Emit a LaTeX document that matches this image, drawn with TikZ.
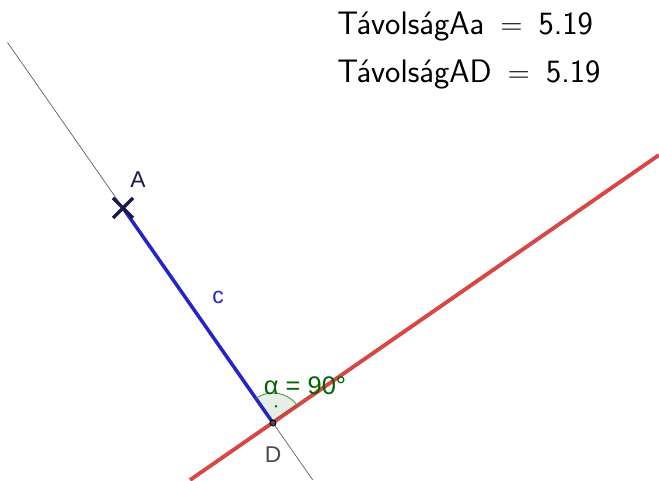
\documentclass[tikz,border=0pt]{standalone}
\usepackage{fontspec}
\newfontfamily\labelfont{Liberation Sans}
\usetikzlibrary{calc}
\definecolor{segblue}{HTML}{2424C8}
\definecolor{linered}{HTML}{D94646}
\definecolor{anglegreen}{HTML}{006400}
\definecolor{ptnavy}{HTML}{1A1A4A}

\begin{document}
\begin{tikzpicture}[x=0.02cm, y=0.02cm, every node/.style={font=\labelfont\fontsize{13}{15}\selectfont},
    value/.style={anchor=base west, inner sep=0pt, font=\sffamily\fontsize{18.5}{22}\selectfont}]
    \useasboundingbox (0,0) rectangle (659,480);
    \coordinate (A) at (123,272);
    \coordinate (D) at (273,57);
    \coordinate (R1) at (190,0);
    \coordinate (R2) at (659,325);
    % perpendicular through A and D
    \draw[gray!75!black, line width=0.4pt] ($(A)!-0.77!(D)$) -- ($(A)!1.265!(D)$);
    \draw[linered, line width=2.2pt] (R1) -- (R2);
    \draw[segblue, line width=2pt] (A) -- (D);
    \node[segblue] (c) at (218,183) {c};
    % right angle mark
    \fill[anglegreen, fill opacity=0.1] (D) -- ++(34.8:30) arc (34.8:124.8:30) -- cycle;
    \draw[anglegreen!70, line width=0.5pt] ($(D)+(34.8:30)$) arc (34.8:124.8:30);
    \fill[anglegreen] ($(D)+(79.8:17)$) circle (1.3);
    \node[anglegreen, font=\labelfont\fontsize{14.5}{16}\selectfont] (alpha) at (305,94) {α = 90°};
    % points
    \draw[ptnavy, line width=2pt] ($(A)+(-10,-10)$) -- ($(A)+(10,10)$) ($(A)+(-10,10)$) -- ($(A)+(10,-10)$);
    \node[ptnavy] (Alab) at (138,300) {A};
    \filldraw[fill=gray!60!black, draw=black, line width=0.5pt] (D) circle (3);
    \node[gray!60!black] (Dlab) at (273,25) {D};
    % values
    \node[value] (dAa) at (337,445) {TávolságAa\hspace{0.5em}$=$\hspace{0.5em}5.19};
    \node[value] (dAD) at (337,397) {TávolságAD\hspace{0.5em}$=$\hspace{0.5em}5.19};
  \end{tikzpicture}
\end{document}
